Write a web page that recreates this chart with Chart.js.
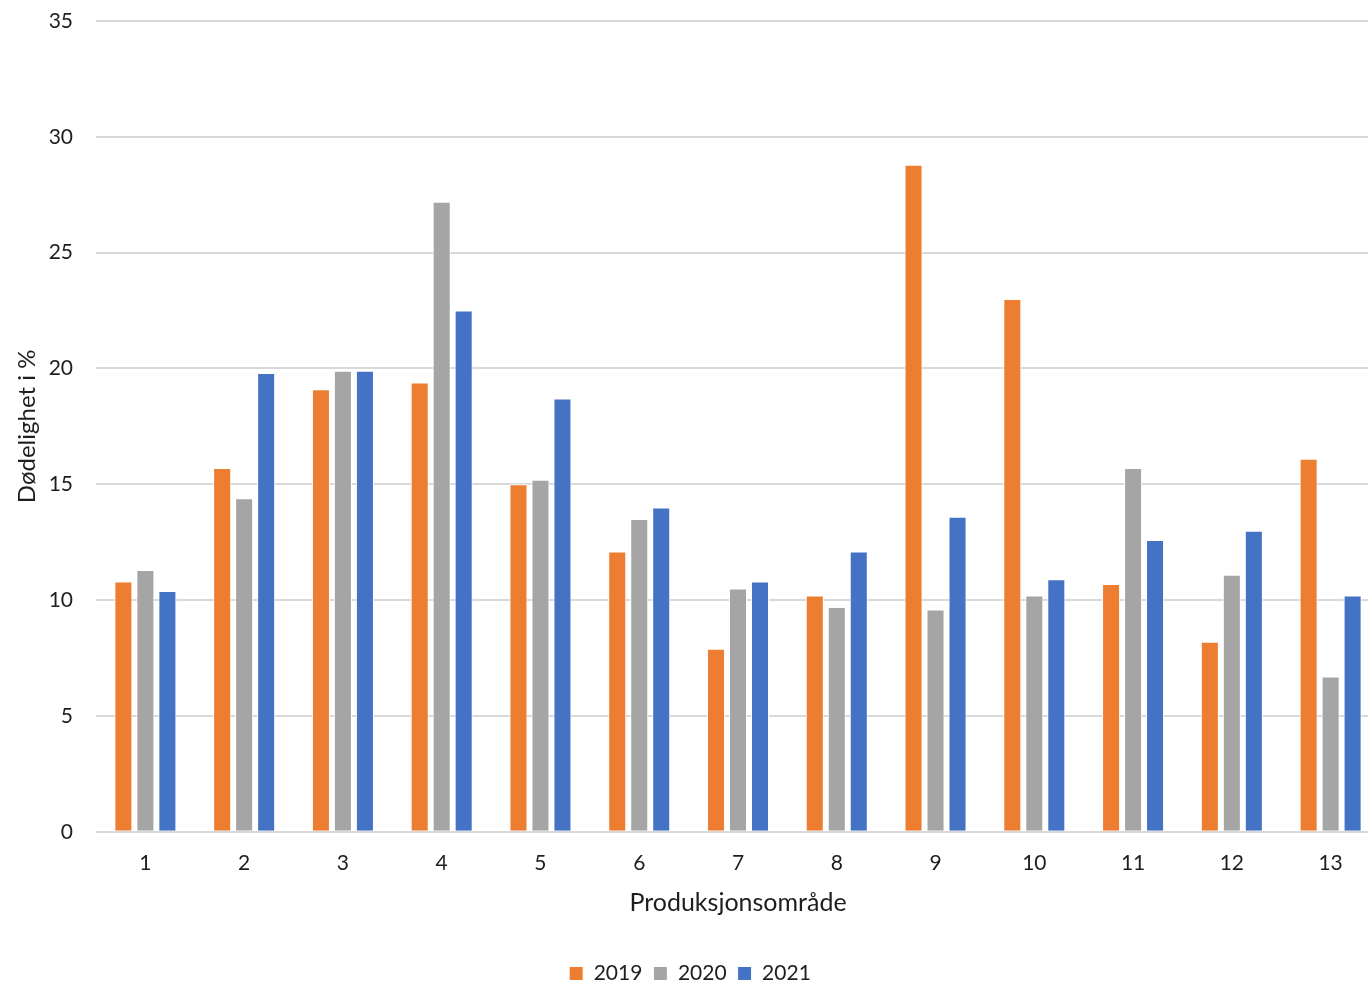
<!DOCTYPE html>
<html>
<head>
<meta charset="utf-8">
<script src="https://cdn.jsdelivr.net/npm/chart.js@4/dist/chart.umd.min.js"></script>
<style>
  html, body { margin: 0; padding: 0; background: #fff; overflow: hidden; }
  #wrap { position: absolute; left: 0; top: 0; width: 1380px; height: 981px; }
</style>
</head>
<body>
<div id="wrap"><canvas id="chart"></canvas></div>
<script>
// Produksjonsområde 1-13
const omrader = ['1', '2', '3', '4', '5', '6', '7', '8', '9', '10', '11', '12', '13'];

// Dødelighet i % per år
const data2019 = [10.8, 15.7, 19.1, 19.4, 15.0, 12.1, 7.9, 10.2, 28.8, 23.0, 10.7, 8.2, 16.1];
const data2020 = [11.3, 14.4, 19.9, 27.2, 15.2, 13.5, 10.5, 9.7, 9.6, 10.2, 15.7, 11.1, 6.7];
const data2021 = [10.4, 19.8, 19.9, 22.5, 18.7, 14.0, 10.8, 12.1, 13.6, 10.9, 12.6, 13.0, 10.2];

const yTicks = [0, 5, 10, 15, 20, 25, 30, 35];

const fontFamily = 'Lato, "Open Sans", sans-serif';
const textColor = '#1e1e1e';

const barStyle = {
    borderColor: '#ffffff',
    borderWidth: 1,
    barPercentage: 0.82,
    categoryPercentage: 0.668
};

const ctx = document.getElementById('chart');
new Chart(ctx, {
    type: 'bar',
    data: {
        labels: omrader,
        datasets: [
            { label: '2019', data: data2019, backgroundColor: '#ED7D31', ...barStyle },
            { label: '2020', data: data2020, backgroundColor: '#A5A5A5', ...barStyle },
            { label: '2021', data: data2021, backgroundColor: '#4472C4', ...barStyle }
        ]
    },
    options: {
        responsive: true,
        maintainAspectRatio: false,
        animation: false,
        layout: { padding: { left: 0, right: 0, top: 21, bottom: -13 } },
        plugins: {
            tooltip: { enabled: false },
            legend: {
                position: 'bottom',
                labels: {
                    boxWidth: 14,
                    boxHeight: 14,
                    padding: 11,
                    color: textColor,
                    font: { family: fontFamily, size: 21 }
                }
            }
        },
        scales: {
            x: {
                grid: { display: false },
                border: { display: false },
                ticks: {
                    color: textColor,
                    padding: 11,
                    font: { family: fontFamily, size: 21 }
                },
                title: {
                    display: true,
                    text: 'Produksjonsområde',
                    color: textColor,
                    font: { family: fontFamily, size: 25 },
                    padding: { top: 1, bottom: 34 }
                }
            },
            y: {
                min: 0,
                max: 35,
                afterBuildTicks: (axis) => {
                    axis.ticks = yTicks.map(v => ({ value: v }));
                },
                afterFit: (axis) => { axis.width = 96; },
                grid: {
                    color: '#D9D9D9',
                    lineWidth: 2,
                    drawTicks: true,
                    tickLength: 23,
                    tickColor: 'rgba(0,0,0,0)'
                },
                border: { display: false },
                ticks: {
                    color: textColor,
                    padding: 0,
                    font: { family: fontFamily, size: 21 }
                },
                title: {
                    display: true,
                    text: 'Dødelighet i %',
                    color: textColor,
                    font: { family: fontFamily, size: 24 },
                    padding: { top: 13, bottom: 0 }
                }
            }
        }
    }
});
</script>
</body>
</html>
